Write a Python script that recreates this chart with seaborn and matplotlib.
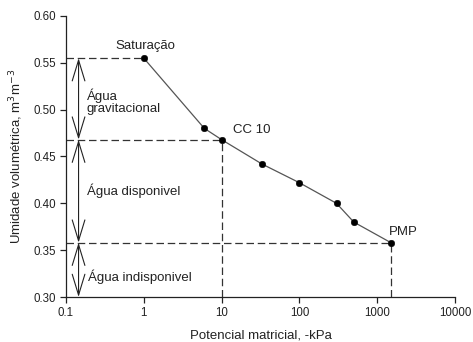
import matplotlib
matplotlib.use("Agg")
import matplotlib.pyplot as plt
import seaborn as sns
import pandas as pd

# Water retention curve data
potencial = [1, 6, 10, 33, 100, 300, 500, 1500]
umidade = [0.555, 0.480, 0.468, 0.442, 0.422, 0.400, 0.380, 0.358]

saturacao = (1, 0.555)
cc10 = (10, 0.468)
pmp = (1500, 0.358)

x_ticks = [0.1, 1, 10, 100, 1000, 10000]
x_labels = ["0.1", "1", "10", "100", "1000", "10000"]
y_ticks = [0.30, 0.35, 0.40, 0.45, 0.50, 0.55, 0.60]

sns.set_theme(style="ticks")
plt.rcParams["font.family"] = ["Liberation Sans", "DejaVu Sans"]

fig = plt.figure(figsize=(4.73, 3.42), dpi=100)
ax = fig.add_axes([66 / 473, 1 - 297 / 342, (455 - 66) / 473, (297 - 16) / 342])

df = pd.DataFrame({"x": potencial, "y": umidade})
sns.lineplot(data=df, x="x", y="y", ax=ax, color="#555555", lw=0.9)
sns.scatterplot(data=df, x="x", y="y", ax=ax, color="black", s=22, edgecolor="black", zorder=5)

ax.set_xscale("log")
ax.set_xlim(0.1, 10000)
ax.set_ylim(0.30, 0.60)

dash = dict(color="#333333", lw=0.9, ls=(0, (6, 3)))
xmin = 0.1
ax.plot([xmin, saturacao[0]], [saturacao[1]] * 2, **dash)
ax.plot([xmin, cc10[0]], [cc10[1]] * 2, **dash)
ax.plot([xmin, pmp[0]], [pmp[1]] * 2, **dash)
ax.plot([cc10[0]] * 2, [0.30, cc10[1]], **dash)
ax.plot([pmp[0]] * 2, [0.30, pmp[1]], **dash)

# Double-headed arrows showing each water class
xa = 0.145
arrow = dict(arrowstyle="<->,head_length=1.25,head_width=0.38", color="#222222", lw=0.8,
             shrinkA=0, shrinkB=0)
for y0, y1 in [(saturacao[1], cc10[1]), (cc10[1], pmp[1]), (pmp[1], 0.30)]:
    ax.annotate("", xy=(xa, y0), xytext=(xa, y1), arrowprops=arrow)

fs = 9.5
ax.text(0.185, 0.508, "Água\ngravitacional", fontsize=fs, va="center", ha="left",
        linespacing=1.0, color="#222222")
ax.text(0.185, 0.413, "Água disponivel", fontsize=fs, va="center", ha="left", color="#222222")
ax.text(0.19, 0.322, "Água indisponivel", fontsize=fs, va="center", ha="left", color="#222222")
ax.text(1.05, 0.562, "Saturação", fontsize=fs, ha="center", va="bottom", color="#222222")
ax.text(14, 0.472, "CC 10", fontsize=fs, ha="left", va="bottom", color="#222222")
ax.text(1400, 0.363, "PMP", fontsize=fs, ha="left", va="bottom", color="#222222")

ax.set_xticks(x_ticks)
ax.set_xticklabels(x_labels)
ax.minorticks_off()
ax.set_yticks(y_ticks)
ax.set_yticklabels([f"{v:.2f}" for v in y_ticks])
ax.tick_params(axis="both", labelsize=8.3, colors="#222222", length=4, width=0.9,
               direction="out", pad=3)
ax.set_xlabel("Potencial matricial, -kPa", fontsize=9.5, color="#222222", labelpad=8)
ax.set_ylabel("Umidade volumétrica, m$^3$m$^{-3}$", fontsize=9.5, color="#222222", labelpad=6)

for s in ["top", "right"]:
    ax.spines[s].set_visible(False)
for s in ["left", "bottom"]:
    ax.spines[s].set_color("#222222")
    ax.spines[s].set_linewidth(0.9)

fig.savefig("out.png", dpi=100, facecolor="white")
